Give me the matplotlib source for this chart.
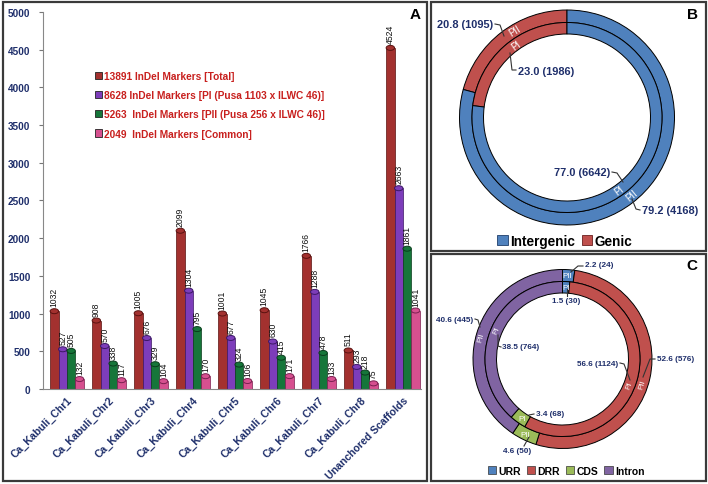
import numpy as np
import matplotlib
matplotlib.use('Agg')
import matplotlib.pyplot as plt
from matplotlib.patches import Ellipse, Rectangle, Patch

plt.rcParams['font.family'] = ['Liberation Sans', 'DejaVu Sans']

W, H = 708, 485  # figure size in pixels

# ---- panel A data ----
chromosomes = ['Ca_Kabuli_Chr1', 'Ca_Kabuli_Chr2', 'Ca_Kabuli_Chr3', 'Ca_Kabuli_Chr4',
               'Ca_Kabuli_Chr5', 'Ca_Kabuli_Chr6', 'Ca_Kabuli_Chr7', 'Ca_Kabuli_Chr8',
               'Unanchored Scaffolds']
total = [1032, 908, 1005, 2099, 1001, 1045, 1766, 511, 4524]
pi_counts = [527, 570, 676, 1304, 677, 630, 1288, 293, 2663]
pii_counts = [505, 338, 329, 795, 324, 415, 478, 218, 1861]
common = [132, 117, 104, 170, 106, 171, 133, 75, 1041]
series_labels = ['13891 InDel Markers [Total]',
                 '8628 InDel Markers [PI (Pusa 1103 x ILWC 46)]',
                 '5263  InDel Markers [PII (Pusa 256 x ILWC 46)]',
                 '2049  InDel Markers [Common]']
bar_colors = ['#A3312F', '#7D3DBA', '#16763A', '#D6508F']
cap_edges = ['#5a1210', '#3c1766', '#093d1c', '#7a2050']

# ---- panel B data ----
b_regions = ['Genic', 'Intergenic']
b_pii_pct = [20.8, 79.2]
b_pii_n = [1095, 4168]
b_pi_pct = [23.0, 77.0]
b_pi_n = [1986, 6642]
b_colors = ['#C0504D', '#4F81BD']

# ---- panel C data ----
c_regions = ['URR', 'DRR', 'CDS', 'Intron']
c_pii_pct = [2.2, 52.6, 4.6, 40.6]
c_pii_n = [24, 576, 50, 445]
c_pi_pct = [1.5, 56.6, 3.4, 38.5]
c_pi_n = [30, 1124, 68, 764]
c_colors = ['#4F81BD', '#C0504D', '#9BBB59', '#8064A2']

navy = '#1F2F6B'
fig = plt.figure(figsize=(W / 100, H / 100), dpi=100)


def frac_box(x0, y0, x1, y1):
    return [x0 / W, 1 - y1 / H, (x1 - x0) / W, (y1 - y0) / H]


# panel frames
for (x0, y0, x1, y1) in [(3, 3, 427, 482), (431, 3, 706, 252), (431, 255, 706, 482)]:
    fig.patches.append(Rectangle((x0 / W, 1 - y1 / H), (x1 - x0) / W, (y1 - y0) / H,
                                 transform=fig.transFigure, fill=False,
                                 edgecolor='#3a3a3a', lw=1.6))

# ================= panel A =================
ax = fig.add_axes(frac_box(43, 13, 421, 390))
x = np.arange(len(chromosomes))
bw = 0.2
px_unit = 5000 / 377.0
for k, (vals, col, ec) in enumerate(zip([total, pi_counts, pii_counts, common],
                                        bar_colors, cap_edges)):
    xs = x + (k - 1.5) * bw
    ax.bar(xs, vals, width=bw, color=col, edgecolor=ec, linewidth=0.5, zorder=2)
    for xi, v in zip(xs, vals):
        ax.add_patch(Ellipse((xi, v), bw, 5 * px_unit, facecolor=col,
                             edgecolor=ec, lw=0.7, zorder=3))
        ax.text(xi, v + 5 * px_unit, str(v), rotation=90, ha='center', va='bottom',
                fontsize=6.2, color='#111111')

ax.set_xlim(-0.57, 8.43)
ax.set_ylim(0, 5000)
ax.set_yticks(range(0, 5001, 500))
ax.set_xticks(x)
ax.set_xticklabels(chromosomes, rotation=45, ha='right', rotation_mode='anchor',
                   fontsize=7.6, fontweight='bold', color=navy)
for lab in ax.get_yticklabels():
    lab.set_fontweight('bold')
    lab.set_color(navy)
    lab.set_fontsize(7.2)
ax.tick_params(axis='y', length=3, color='#777777', pad=6)
ax.tick_params(axis='x', length=0, pad=4)
for s in ['top', 'right']:
    ax.spines[s].set_visible(False)
for s in ['left', 'bottom']:
    ax.spines[s].set_color('#888888')

handles = [Patch(facecolor=c, edgecolor='#222222', lw=0.6) for c in bar_colors]
leg = ax.legend(handles, series_labels, loc='upper left',
                bbox_to_anchor=(86 / W, 1 - 63 / H), bbox_transform=fig.transFigure,
                frameon=False, handlelength=0.7, handleheight=0.7, handletextpad=0.2,
                labelspacing=0.9, prop={'weight': 'bold', 'size': 7.3})
for t in leg.get_texts():
    t.set_color('#C8201E')
fig.text(415 / W, 1 - 15 / H, 'A', fontsize=11, fontweight='bold', ha='center', va='center')


def fix_limits(a, x0, y0, x1, y1):
    a.set_xlim(x0, x1)
    a.set_ylim(H - y1, H - y0)
    a.set_aspect('equal')
    a.axis('off')


def polar(cx, cy, r, ang):
    t = np.deg2rad(ang)
    return cx + r * np.cos(t), cy + r * np.sin(t)


def leader(a, pts):
    a.plot([p[0] for p in pts], [H - p[1] for p in pts], color='#333333', lw=0.8,
           solid_joinstyle='miter')


# ================= panel B =================
axb = fig.add_axes(frac_box(431, 3, 706, 252))
cxb, cyb = 567, H - 118.5
Rb = 107.5
wp = dict(edgecolor='black', linewidth=0.7)
axb.pie(b_pii_pct, colors=b_colors, startangle=90, counterclock=True,
        center=(cxb, cyb), radius=Rb, wedgeprops=dict(width=12.5, **wp))
axb.pie(b_pi_pct, colors=b_colors, startangle=90, counterclock=True,
        center=(cxb, cyb), radius=Rb - 12.5, wedgeprops=dict(width=11.5, **wp))
fix_limits(axb, 431, 3, 706, 252)

lab_kw = dict(color=navy, fontweight='bold', va='center')
axb.text(493, H - 25, f'{b_pii_pct[0]:.1f} ({b_pii_n[0]})', ha='right', fontsize=7.9, **lab_kw)
leader(axb, [(495, 25), (500, 26), (504, 37)])
axb.text(518, H - 72, f'{b_pi_pct[0]:.1f} ({b_pi_n[0]})', ha='left', fontsize=7.9, **lab_kw)
leader(axb, [(510, 54), (512, 71), (516, 71)])
axb.text(610, H - 173, f'{b_pi_pct[1]:.1f} ({b_pi_n[1]})', ha='right', fontsize=7.9, **lab_kw)
leader(axb, [(612, 173), (617, 174), (623, 183)])
axb.text(642, H - 211, f'{b_pii_pct[1]:.1f} ({b_pii_n[1]})', ha='left', fontsize=7.9, **lab_kw)
leader(axb, [(632, 200), (636, 210), (640, 211)])

for r, ang, txt in [(101, 121, 'PII'), (89, 125, 'PI'), (89, -54, 'PI'), (101, -50, 'PII')]:
    px, py = polar(cxb, cyb, r, ang)
    rot = ang - 90 if ang > 0 else ang + 90
    axb.text(px, py, txt, color='white', fontsize=7, ha='center', va='center', rotation=rot)
axb.text(693, H - 15, 'B', fontsize=11, fontweight='bold', ha='center', va='center')

hb = [Patch(facecolor=b_colors[1], edgecolor='#1f3f6b', lw=0.6),
      Patch(facecolor=b_colors[0], edgecolor='#6b1f1f', lw=0.6)]
axb.legend(hb, [b_regions[1], b_regions[0]], loc='center',
           bbox_to_anchor=(565 / W, 1 - 242 / H), bbox_transform=fig.transFigure,
           ncol=2, frameon=False, handlelength=0.75, handleheight=0.75, handletextpad=0.2,
           columnspacing=0.5, prop={'weight': 'bold', 'size': 9.8})

# ================= panel C =================
axc = fig.add_axes(frac_box(431, 255, 706, 482))
cxc, cyc = 562.5, H - 360
Rc = 89.5
axc.pie(c_pii_pct, colors=c_colors, startangle=90, counterclock=False,
        center=(cxc, cyc), radius=Rc, wedgeprops=dict(width=12, **wp))
axc.pie(c_pi_pct, colors=c_colors, startangle=90, counterclock=False,
        center=(cxc, cyc), radius=Rc - 12, wedgeprops=dict(width=11.5, **wp))
fix_limits(axc, 431, 255, 706, 482)

fs_c = 5.9
axc.text(585, H - 266, f'{c_pii_pct[0]:.1f} ({c_pii_n[0]})', ha='left', fontsize=fs_c, **lab_kw)
leader(axc, [(571, 273), (578, 267), (583, 267)])
axc.text(566, H - 302, f'{c_pi_pct[0]:.1f} ({c_pi_n[0]})', ha='center', fontsize=fs_c, **lab_kw)
leader(axc, [(567, 290), (567, 297)])
axc.text(473, H - 321, f'{c_pii_pct[3]:.1f} ({c_pii_n[3]})', ha='right', fontsize=fs_c, **lab_kw)
leader(axc, [(475, 320), (478, 321), (480, 328)])
axc.text(502, H - 348, f'{c_pi_pct[3]:.1f} ({c_pi_n[3]})', ha='left', fontsize=fs_c, **lab_kw)
leader(axc, [(498, 336), (498, 347), (501, 348)])
axc.text(618, H - 365, f'{c_pi_pct[1]:.1f} ({c_pi_n[1]})', ha='right', fontsize=fs_c, **lab_kw)
leader(axc, [(620, 364), (624, 365), (630, 381)])
axc.text(657, H - 360, f'{c_pii_pct[1]:.1f} ({c_pii_n[1]})', ha='left', fontsize=fs_c, **lab_kw)
leader(axc, [(655, 360), (650, 360), (643, 378)])
axc.text(536, H - 415, f'{c_pi_pct[2]:.1f} ({c_pi_n[2]})', ha='left', fontsize=fs_c, **lab_kw)
leader(axc, [(529, 416), (534, 415)])
axc.text(517, H - 452, f'{c_pii_pct[2]:.1f} ({c_pii_n[2]})', ha='center', fontsize=fs_c, **lab_kw)
leader(axc, [(524, 447), (529, 438)])

for r, ang, txt, rot in [(84, 87, 'PII', 0), (72, 87, 'PI', 0),
                         (84, 165, 'PII', 75), (72, 156, 'PI', 66),
                         (72, -21, 'PI', 69), (84, -17, 'PII', 73),
                         (72, 236, 'PI', 0), (84, 244, 'PII', 0)]:
    px, py = polar(cxc, cyc, r, ang)
    axc.text(px, py, txt, color='white', fontsize=5.8, ha='center', va='center', rotation=rot)
axc.text(692, H - 266, 'C', fontsize=11, fontweight='bold', ha='center', va='center')

hc = [Patch(facecolor=c, edgecolor='#333333', lw=0.5) for c in c_colors]
axc.legend(hc, c_regions, loc='center',
           bbox_to_anchor=(566 / W, 1 - 472 / H), bbox_transform=fig.transFigure,
           ncol=4, frameon=False, handlelength=0.8, handleheight=0.8, handletextpad=0.2,
           columnspacing=0.6, prop={'weight': 'bold', 'size': 7.5})

fig.savefig('out.png', dpi=100)
